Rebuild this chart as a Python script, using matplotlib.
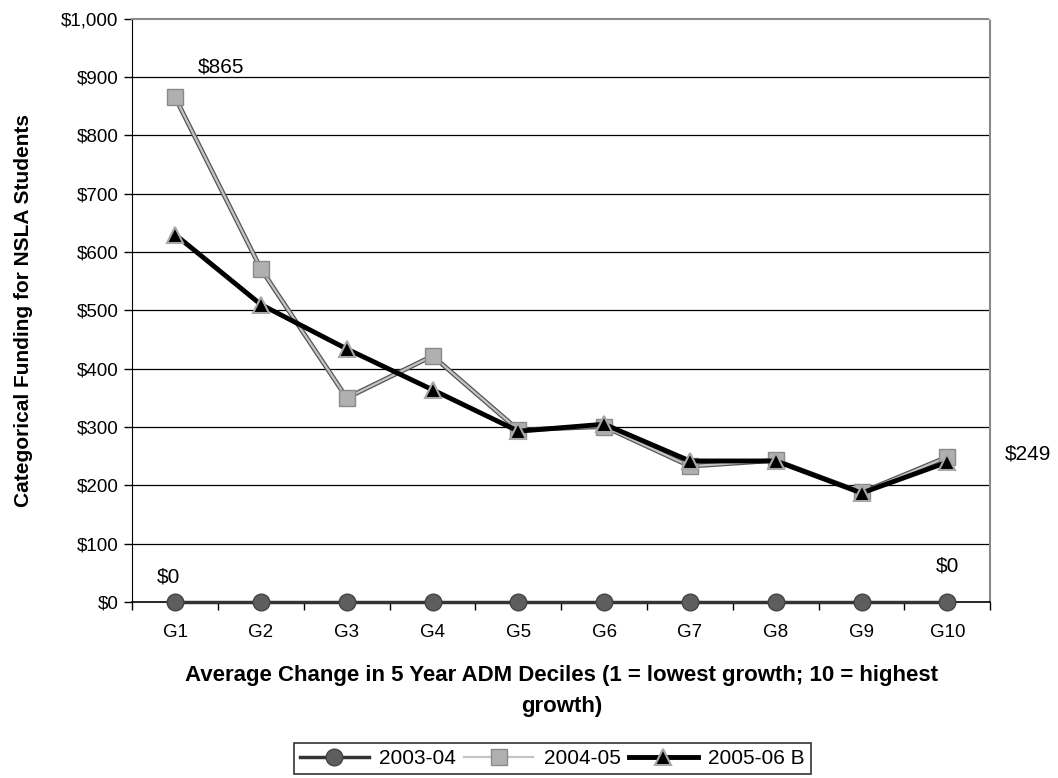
import numpy as np
import matplotlib
matplotlib.use("Agg")
import matplotlib.pyplot as plt
from matplotlib.ticker import FuncFormatter, FixedLocator

plt.rcParams['font.family'] = ['Liberation Sans', 'DejaVu Sans']

# deciles of 5-year ADM growth
groups = ["G1", "G2", "G3", "G4", "G5", "G6", "G7", "G8", "G9", "G10"]

# categorical funding per NSLA student, by year
funding_0304 = [0, 0, 0, 0, 0, 0, 0, 0, 0, 0]
funding_0405 = [865, 571, 350, 422, 295, 301, 233, 243, 188, 249]
funding_0506 = [630, 510, 434, 364, 293, 305, 242, 242, 187, 240]

series_names = ["2003-04", "2004-05", "2005-06 B"]

y_ticks = [0, 100, 200, 300, 400, 500, 600, 700, 800, 900, 1000]

fig = plt.figure(figsize=(10.58, 7.78), dpi=100)
ax = fig.add_axes([0.125, 0.226, 0.811, 0.75])

x = np.arange(len(groups))

# horizontal gridlines
for v in y_ticks[1:-1]:
    ax.axhline(v, color='black', lw=0.9, zorder=1)

# 2003-04: dark line with dark grey circles
l1, = ax.plot(x, funding_0304, color='#333333', lw=2.5, marker='o',
              markersize=12, markerfacecolor='#5e5e5e', markeredgecolor='#444444',
              markeredgewidth=1, zorder=4, clip_on=False, label=series_names[0])

# 2004-05: light grey line with dark edging, grey squares
ax.plot(x, funding_0405, color='#555555', lw=3.4, zorder=2)
l2, = ax.plot(x, funding_0405, color='#c4c4c4', lw=1.6, marker='s',
              markersize=12, markerfacecolor='#b0b0b0', markeredgecolor='#8a8a8a',
              markeredgewidth=1, zorder=3, label=series_names[1])

# 2005-06 B: heavy black line with black triangles
l3, = ax.plot(x, funding_0506, color='black', lw=3.5, marker='^',
              markersize=11, markerfacecolor='black', markeredgecolor='#a8a8a8',
              markeredgewidth=1.5, zorder=5, label=series_names[2])

# value labels
lbl = dict(textcoords='offset points', fontsize=15, annotation_clip=False)
ax.annotate(f"${funding_0405[0]:,}", (x[0], funding_0405[0]), xytext=(16, 22),
            ha='left', va='center', **lbl)
ax.annotate(f"${funding_0405[-1]:,}", (x[-1], funding_0405[-1]), xytext=(41, 2),
            ha='left', va='center', **lbl)
ax.annotate(f"${funding_0304[0]:,}", (x[0], funding_0304[0]), xytext=(-5, 18),
            ha='center', va='center', **lbl)
ax.annotate(f"${funding_0304[-1]:,}", (x[-1], funding_0304[-1]), xytext=(0, 26),
            ha='center', va='center', **lbl)

ax.set_xlim(-0.5, len(groups) - 0.5)
ax.set_ylim(0, 1000)

ax.set_yticks(y_ticks)
ax.yaxis.set_major_formatter(FuncFormatter(lambda v, p: f"${int(v):,}"))
ax.set_xticks(x)
ax.set_xticklabels(groups)
ax.xaxis.set_minor_locator(FixedLocator(np.arange(-0.5, len(groups), 1.0)))
ax.tick_params(axis='x', which='major', length=0, pad=16, labelsize=13.5)
ax.tick_params(axis='x', which='minor', length=6, direction='out', width=1)
ax.tick_params(axis='y', length=6, direction='out', width=1, labelsize=13.5, pad=4)

ax.spines['left'].set_color('black')
ax.spines['bottom'].set_color('black')
ax.spines['bottom'].set_linewidth(1.2)
for side in ['top', 'right']:
    ax.spines[side].set_color('#8a8a8a')
    ax.spines[side].set_linestyle((0, (1, 1)))
    ax.spines[side].set_linewidth(1.5)

ax.set_ylabel("Categorical Funding for NSLA Students", fontsize=15,
              fontweight='bold', labelpad=20)
ax.set_xlabel("Average Change in 5 Year ADM Deciles (1 = lowest growth; 10 = highest\ngrowth)",
              fontsize=16, fontweight='bold', labelpad=17, linespacing=1.6)

leg = fig.legend(handles=[l1, l2, l3], loc='center', bbox_to_anchor=(0.522, 0.025),
                 ncol=3, fontsize=15, frameon=True, fancybox=False,
                 edgecolor='black', handlelength=3.3, columnspacing=0.4,
                 handletextpad=0.5, borderpad=0.3)
leg.get_frame().set_linewidth(1.2)

fig.savefig("out.png", dpi=100)
